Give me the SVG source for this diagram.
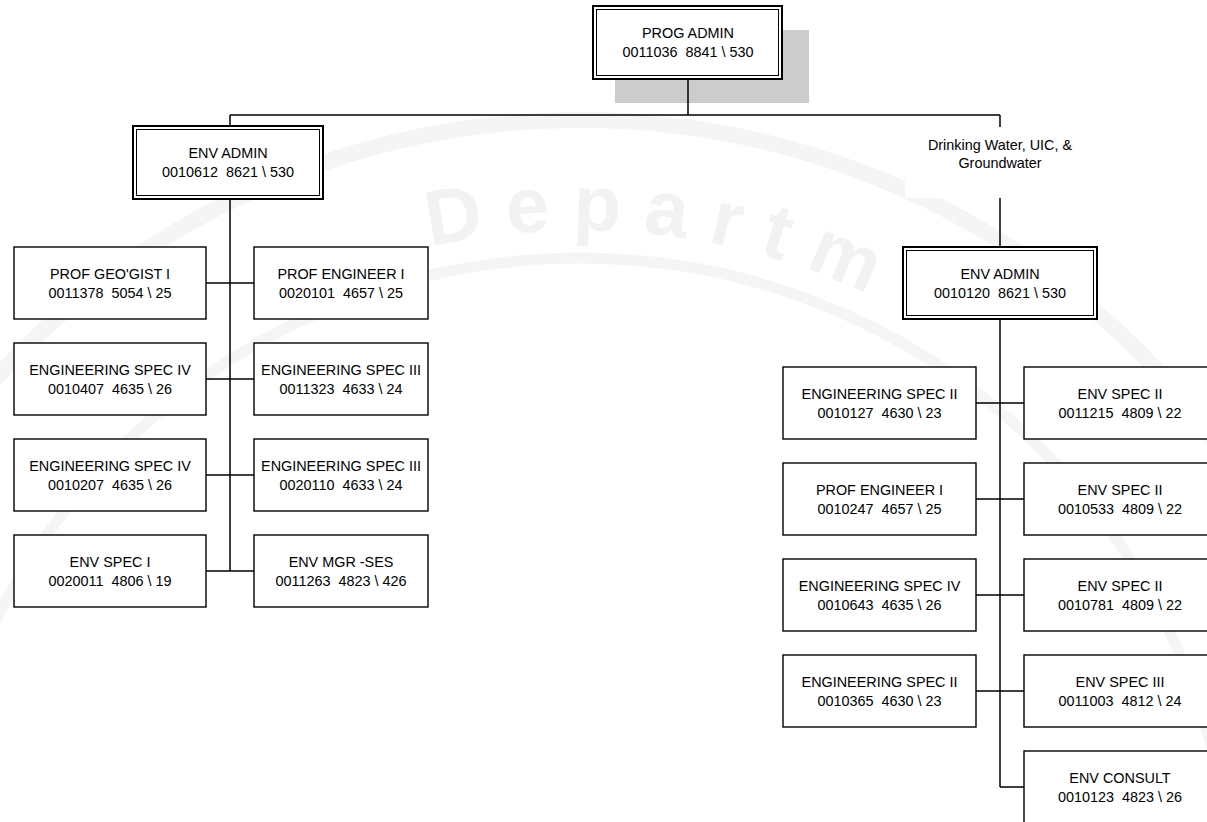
<svg xmlns="http://www.w3.org/2000/svg" width="1207" height="822" viewBox="0 0 1207 822">
  <style>
    .box { fill: #ffffff; stroke: #000000; stroke-width: 1.4; }
    .outer { fill: #ffffff; stroke: #000000; stroke-width: 2; }
    .inner { fill: none; stroke: #000000; stroke-width: 1; }
    .lbl { font-family: "Liberation Sans", Arial, sans-serif; font-size: 14.4px; fill: #000000; text-anchor: middle; white-space: pre; }
    .wire { fill: none; stroke: #000000; stroke-width: 1.5; }
    .wm { fill: none; stroke: #f5f5f5; }
    .wmtext { font-family: "Liberation Sans", Arial, sans-serif; font-size: 78px; font-weight: bold; fill: #f2f2f2; letter-spacing: 22px; }
  </style>
  <defs>
    <path id="sealArc" d="M430,247 A680,680 0 0 1 1200,631"/>
  </defs>

  <rect width="1207" height="822" fill="#ffffff"/>

  <!-- faint seal in the background -->
  <g id="watermark">
    <circle class="wm" cx="580" cy="910" r="790" stroke-width="16"/>
    <circle class="wm" cx="580" cy="910" r="652" stroke-width="11"/>
    <text class="wmtext"><textPath href="#sealArc">Departm</textPath></text>
  </g>

  <!-- drop shadow behind the top node -->
  <rect x="615" y="30" width="194" height="73" fill="#cccccc"/>

  <!-- connectors -->
  <g id="connectors">
    <path class="wire" d="M688,79 V115 M230,115 H1000 M230,115 V126 M1000,115 V247"/>
    <!-- left branch -->
    <path class="wire" d="M230,199 V571 M206,283 H254 M206,379 H254 M206,475 H254 M206,571 H254"/>
    <!-- right branch -->
    <path class="wire" d="M1000,319 V787 M976,403 H1024 M976,499 H1024 M976,595 H1024 M976,691 H1024 M1000,787 H1024"/>
  </g>

  <!-- top node -->
  <g id="prog-admin">
    <rect class="outer" x="593" y="6" width="189" height="73"/>
    <rect class="inner" x="596.5" y="9.5" width="182" height="66"/>
    <text class="lbl" x="688" y="38">PROG ADMIN</text>
    <text class="lbl" x="688" y="56.5" xml:space="preserve">0011036  8841 \ 530</text>
  </g>

  <!-- section label -->
  <g id="dw-label">
    <rect x="905" y="127" width="190" height="71" fill="#ffffff"/>
    <text class="lbl" x="1000" y="150">Drinking Water, UIC, &amp;</text>
    <text class="lbl" x="1000" y="168">Groundwater</text>
  </g>

  <!-- left ENV ADMIN -->
  <g id="env-admin-left">
    <rect class="outer" x="133" y="126" width="190" height="73"/>
    <rect class="inner" x="136.5" y="129.5" width="183" height="66"/>
    <text class="lbl" x="228" y="158">ENV ADMIN</text>
    <text class="lbl" x="228" y="176.5" xml:space="preserve">0010612  8621 \ 530</text>
  </g>

  <!-- right ENV ADMIN -->
  <g id="env-admin-right">
    <rect class="outer" x="903" y="247" width="194" height="72"/>
    <rect class="inner" x="906.5" y="250.5" width="187" height="65"/>
    <text class="lbl" x="1000" y="279">ENV ADMIN</text>
    <text class="lbl" x="1000" y="297.5" xml:space="preserve">0010120  8621 \ 530</text>
  </g>

  <!-- left branch, left column -->
  <g id="l1">
    <rect class="box" x="14" y="247" width="192" height="72"/>
    <text class="lbl" x="110" y="279">PROF GEO'GIST I</text>
    <text class="lbl" x="110" y="297.5" xml:space="preserve">0011378  5054 \ 25</text>
  </g>
  <g id="l2">
    <rect class="box" x="14" y="343" width="192" height="72"/>
    <text class="lbl" x="110" y="375">ENGINEERING SPEC IV</text>
    <text class="lbl" x="110" y="393.5" xml:space="preserve">0010407  4635 \ 26</text>
  </g>
  <g id="l3">
    <rect class="box" x="14" y="439" width="192" height="72"/>
    <text class="lbl" x="110" y="471">ENGINEERING SPEC IV</text>
    <text class="lbl" x="110" y="489.5" xml:space="preserve">0010207  4635 \ 26</text>
  </g>
  <g id="l4">
    <rect class="box" x="14" y="535" width="192" height="72"/>
    <text class="lbl" x="110" y="567">ENV SPEC I</text>
    <text class="lbl" x="110" y="585.5" xml:space="preserve">0020011  4806 \ 19</text>
  </g>

  <!-- left branch, right column -->
  <g id="l5">
    <rect class="box" x="254" y="247" width="174" height="72"/>
    <text class="lbl" x="341" y="279">PROF ENGINEER I</text>
    <text class="lbl" x="341" y="297.5" xml:space="preserve">0020101  4657 \ 25</text>
  </g>
  <g id="l6">
    <rect class="box" x="254" y="343" width="174" height="72"/>
    <text class="lbl" x="341" y="375">ENGINEERING SPEC III</text>
    <text class="lbl" x="341" y="393.5" xml:space="preserve">0011323  4633 \ 24</text>
  </g>
  <g id="l7">
    <rect class="box" x="254" y="439" width="174" height="72"/>
    <text class="lbl" x="341" y="471">ENGINEERING SPEC III</text>
    <text class="lbl" x="341" y="489.5" xml:space="preserve">0020110  4633 \ 24</text>
  </g>
  <g id="l8">
    <rect class="box" x="254" y="535" width="174" height="72"/>
    <text class="lbl" x="341" y="567">ENV MGR -SES</text>
    <text class="lbl" x="341" y="585.5" xml:space="preserve">0011263  4823 \ 426</text>
  </g>

  <!-- right branch, left column -->
  <g id="r1">
    <rect class="box" x="783" y="367" width="193" height="72"/>
    <text class="lbl" x="879.5" y="399">ENGINEERING SPEC II</text>
    <text class="lbl" x="879.5" y="417.5" xml:space="preserve">0010127  4630 \ 23</text>
  </g>
  <g id="r2">
    <rect class="box" x="783" y="463" width="193" height="72"/>
    <text class="lbl" x="879.5" y="495">PROF ENGINEER I</text>
    <text class="lbl" x="879.5" y="513.5" xml:space="preserve">0010247  4657 \ 25</text>
  </g>
  <g id="r3">
    <rect class="box" x="783" y="559" width="193" height="72"/>
    <text class="lbl" x="879.5" y="591">ENGINEERING SPEC IV</text>
    <text class="lbl" x="879.5" y="609.5" xml:space="preserve">0010643  4635 \ 26</text>
  </g>
  <g id="r4">
    <rect class="box" x="783" y="655" width="193" height="72"/>
    <text class="lbl" x="879.5" y="687">ENGINEERING SPEC II</text>
    <text class="lbl" x="879.5" y="705.5" xml:space="preserve">0010365  4630 \ 23</text>
  </g>

  <!-- right branch, right column -->
  <g id="r5">
    <rect class="box" x="1024" y="367" width="192" height="72"/>
    <text class="lbl" x="1120" y="399">ENV SPEC II</text>
    <text class="lbl" x="1120" y="417.5" xml:space="preserve">0011215  4809 \ 22</text>
  </g>
  <g id="r6">
    <rect class="box" x="1024" y="463" width="192" height="72"/>
    <text class="lbl" x="1120" y="495">ENV SPEC II</text>
    <text class="lbl" x="1120" y="513.5" xml:space="preserve">0010533  4809 \ 22</text>
  </g>
  <g id="r7">
    <rect class="box" x="1024" y="559" width="192" height="72"/>
    <text class="lbl" x="1120" y="591">ENV SPEC II</text>
    <text class="lbl" x="1120" y="609.5" xml:space="preserve">0010781  4809 \ 22</text>
  </g>
  <g id="r8">
    <rect class="box" x="1024" y="655" width="192" height="72"/>
    <text class="lbl" x="1120" y="687">ENV SPEC III</text>
    <text class="lbl" x="1120" y="705.5" xml:space="preserve">0011003  4812 \ 24</text>
  </g>
  <g id="r9">
    <rect class="box" x="1024" y="751" width="192" height="80"/>
    <text class="lbl" x="1120" y="783">ENV CONSULT</text>
    <text class="lbl" x="1120" y="801.5" xml:space="preserve">0010123  4823 \ 26</text>
  </g>
</svg>
